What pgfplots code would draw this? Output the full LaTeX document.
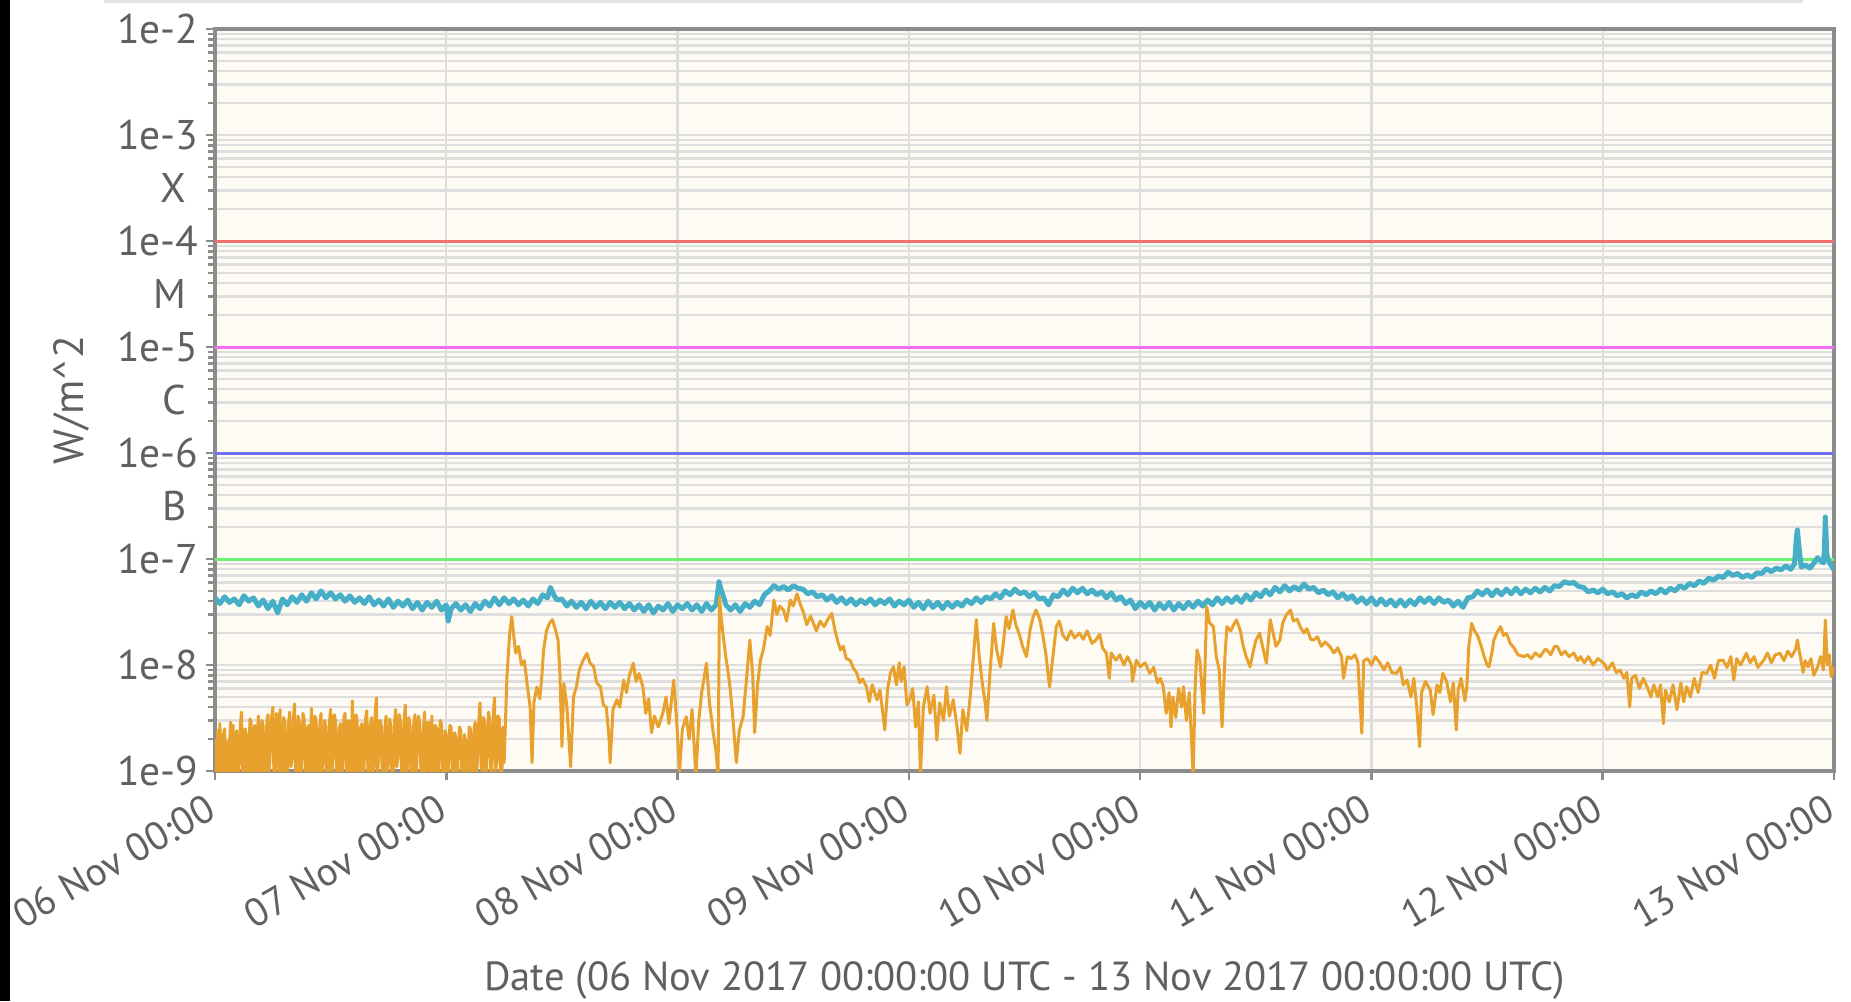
\documentclass[border=0pt]{standalone}
\usepackage{pgfplots}
\pgfplotsset{compat=1.18}
\usepackage{pgfplotstable}
\usepackage{fontspec}
\setmainfont{PT Sans}
\definecolor{cream}{RGB}{253,251,243}
\definecolor{gridgray}{RGB}{222,222,222}
\definecolor{framegray}{RGB}{140,140,140}
\definecolor{textgray}{RGB}{96,96,96}
\definecolor{goesorange}{RGB}{233,161,46}
\definecolor{goesblue}{RGB}{70,174,198}
\definecolor{xline}{RGB}{240,112,112}
\definecolor{mline}{RGB}{245,110,245}
\definecolor{cline}{RGB}{112,112,240}
\definecolor{bline}{RGB}{112,240,112}

% long channel (1-8 A), hours since 06 Nov 00:00 UTC
\pgfplotstableread[row sep=\\]{
h v\\
0 4.3e-8\\ 0.5 3.8e-8\\ 1 4.4e-8\\ 1.5 3.9e-8\\ 2 4.2e-8\\ 2.5 3.7e-8\\ 3 4.5e-8\\ 3.5 4.0e-8\\ 4 4.3e-8\\ 4.5 3.6e-8\\
5 4.1e-8\\ 5.5 3.4e-8\\ 6 4.0e-8\\ 6.5 3.1e-8\\ 7 4.2e-8\\ 7.5 3.7e-8\\ 8 4.4e-8\\ 8.5 3.9e-8\\ 9 4.6e-8\\ 9.5 4.0e-8\\
10 4.8e-8\\ 10.5 4.2e-8\\ 11 5.0e-8\\ 11.5 4.3e-8\\ 12 4.8e-8\\ 12.5 4.2e-8\\ 13 4.6e-8\\ 13.5 4.0e-8\\ 14 4.5e-8\\ 14.5 3.9e-8\\
15 4.3e-8\\ 15.5 3.8e-8\\ 16 4.4e-8\\ 16.5 3.7e-8\\ 17 4.1e-8\\ 17.5 3.6e-8\\ 18 4.2e-8\\ 18.5 3.5e-8\\ 19 4.0e-8\\ 19.5 3.6e-8\\
20 4.1e-8\\ 20.5 3.4e-8\\ 21 3.9e-8\\ 21.5 3.3e-8\\ 22 3.9e-8\\ 22.5 3.5e-8\\ 23 4.0e-8\\ 23.5 3.3e-8\\ 24 3.7e-8\\ 24.2 2.6e-8\\
24.5 3.4e-8\\ 25 3.8e-8\\ 25.5 3.3e-8\\ 26 3.7e-8\\ 26.5 3.2e-8\\ 27 3.8e-8\\ 27.5 3.4e-8\\ 28 4.0e-8\\ 28.5 3.6e-8\\ 29 4.3e-8\\
29.5 3.7e-8\\ 30 4.3e-8\\ 30.5 3.8e-8\\ 31 4.2e-8\\ 31.5 3.7e-8\\ 32 4.1e-8\\ 32.5 3.6e-8\\ 33 4.2e-8\\ 33.5 3.8e-8\\ 34 4.6e-8\\
34.5 4.3e-8\\ 34.8 5.4e-8\\ 35.2 4.5e-8\\ 35.5 4.1e-8\\ 36 4.2e-8\\ 36.5 3.6e-8\\ 37 4.0e-8\\ 37.5 3.5e-8\\ 38 3.9e-8\\ 38.5 3.4e-8\\
39 4.0e-8\\ 39.5 3.5e-8\\ 40 3.9e-8\\ 40.5 3.4e-8\\ 41 3.9e-8\\ 41.5 3.5e-8\\ 42 3.9e-8\\ 42.5 3.4e-8\\ 43 3.8e-8\\ 43.5 3.3e-8\\
44 3.7e-8\\ 44.5 3.2e-8\\ 45 3.7e-8\\ 45.5 3.1e-8\\ 46 3.6e-8\\ 46.5 3.3e-8\\ 47 3.8e-8\\ 47.5 3.2e-8\\ 48 3.7e-8\\ 48.5 3.4e-8\\
49 3.8e-8\\ 49.5 3.3e-8\\ 50 3.7e-8\\ 50.5 3.2e-8\\ 51 3.8e-8\\ 51.5 3.3e-8\\ 52 3.7e-8\\ 52.3 6.1e-8\\ 52.5 5.2e-8\\ 52.8 4.3e-8\\
53 3.7e-8\\ 53.5 3.3e-8\\ 54 3.7e-8\\ 54.5 3.2e-8\\ 55 3.8e-8\\ 55.5 3.5e-8\\ 56 4.0e-8\\ 56.5 3.7e-8\\ 57 4.6e-8\\ 57.5 5.0e-8\\
58 5.6e-8\\ 58.5 5.2e-8\\ 59 5.5e-8\\ 59.5 5.1e-8\\ 60 5.6e-8\\ 60.5 5.3e-8\\ 61 5.2e-8\\ 61.5 4.7e-8\\ 62 4.9e-8\\ 62.5 4.4e-8\\
63 4.6e-8\\ 63.5 4.1e-8\\ 64 4.5e-8\\ 64.5 3.9e-8\\ 65 4.3e-8\\ 65.5 3.8e-8\\ 66 4.2e-8\\ 66.5 3.7e-8\\ 67 4.1e-8\\ 67.5 3.8e-8\\
68 4.2e-8\\ 68.5 3.7e-8\\ 69 4.1e-8\\ 69.5 3.8e-8\\ 70 4.2e-8\\ 70.5 3.6e-8\\ 71 4.0e-8\\ 71.5 3.7e-8\\ 72 4.1e-8\\ 72.5 3.5e-8\\
73 3.9e-8\\ 73.5 3.4e-8\\ 74 4.0e-8\\ 74.5 3.5e-8\\ 75 3.9e-8\\ 75.5 3.4e-8\\ 76 3.9e-8\\ 76.5 3.5e-8\\ 77 3.9e-8\\ 77.5 3.6e-8\\
78 4.1e-8\\ 78.5 3.8e-8\\ 79 4.3e-8\\ 79.5 3.9e-8\\ 80 4.4e-8\\ 80.5 4.2e-8\\ 81 4.7e-8\\ 81.5 4.3e-8\\ 82 5.0e-8\\ 82.5 4.6e-8\\
83 5.2e-8\\ 83.5 4.7e-8\\ 84 4.9e-8\\ 84.5 4.4e-8\\ 85 4.8e-8\\ 85.5 4.2e-8\\ 86 4.3e-8\\ 86.5 3.7e-8\\ 87 4.6e-8\\ 87.5 4.4e-8\\
88 5.1e-8\\ 88.5 4.6e-8\\ 89 5.3e-8\\ 89.5 4.8e-8\\ 90 5.3e-8\\ 90.5 4.7e-8\\ 91 5.1e-8\\ 91.5 4.6e-8\\ 92 4.9e-8\\ 92.5 4.3e-8\\
93 4.8e-8\\ 93.5 4.1e-8\\ 94 4.4e-8\\ 94.5 3.8e-8\\ 95 4.1e-8\\ 95.5 3.4e-8\\ 96 3.9e-8\\ 96.5 3.5e-8\\ 97 3.9e-8\\ 97.5 3.3e-8\\
98 3.8e-8\\ 98.5 3.4e-8\\ 99 3.9e-8\\ 99.5 3.3e-8\\ 100 3.8e-8\\ 100.5 3.4e-8\\ 101 3.9e-8\\ 101.5 3.5e-8\\ 102 4.0e-8\\ 102.5 3.6e-8\\
103 4.1e-8\\ 103.5 3.7e-8\\ 104 4.3e-8\\ 104.5 3.8e-8\\ 105 4.3e-8\\ 105.5 3.9e-8\\ 106 4.4e-8\\ 106.5 3.9e-8\\ 107 4.6e-8\\ 107.5 4.1e-8\\
108 4.8e-8\\ 108.5 4.4e-8\\ 109 5.1e-8\\ 109.5 4.6e-8\\ 110 5.4e-8\\ 110.5 4.9e-8\\ 111 5.6e-8\\ 111.5 5.0e-8\\ 112 5.5e-8\\ 112.5 5.1e-8\\
113 5.8e-8\\ 113.5 5.2e-8\\ 114 5.4e-8\\ 114.5 4.8e-8\\ 115 5.1e-8\\ 115.5 4.6e-8\\ 116 4.9e-8\\ 116.5 4.3e-8\\ 117 4.7e-8\\ 117.5 4.2e-8\\
118 4.5e-8\\ 118.5 3.9e-8\\ 119 4.3e-8\\ 119.5 3.8e-8\\ 120 4.3e-8\\ 120.5 3.7e-8\\ 121 4.2e-8\\ 121.5 3.7e-8\\ 122 4.1e-8\\ 122.5 3.6e-8\\
123 4.1e-8\\ 123.5 3.6e-8\\ 124 4.1e-8\\ 124.5 3.7e-8\\ 125 4.3e-8\\ 125.5 3.9e-8\\ 126 4.3e-8\\ 126.5 3.8e-8\\ 127 4.3e-8\\ 127.5 3.9e-8\\
128 4.1e-8\\ 128.5 3.6e-8\\ 129 4.0e-8\\ 129.5 3.5e-8\\ 130 4.3e-8\\ 130.5 4.4e-8\\ 131 5.0e-8\\ 131.5 4.6e-8\\ 132 5.1e-8\\ 132.5 4.5e-8\\
133 5.1e-8\\ 133.5 4.6e-8\\ 134 5.2e-8\\ 134.5 4.7e-8\\ 135 5.3e-8\\ 135.5 4.7e-8\\ 136 5.2e-8\\ 136.5 4.8e-8\\ 137 5.3e-8\\ 137.5 4.9e-8\\
138 5.4e-8\\ 138.5 5.0e-8\\ 139 5.6e-8\\ 139.5 5.5e-8\\ 140 6.1e-8\\ 140.5 5.9e-8\\ 141 6.0e-8\\ 141.5 5.5e-8\\ 142 5.4e-8\\ 142.5 4.9e-8\\
143 5.1e-8\\ 143.5 4.8e-8\\ 144 5.2e-8\\ 144.5 4.7e-8\\ 145 4.9e-8\\ 145.5 4.5e-8\\ 146 4.7e-8\\ 146.5 4.3e-8\\ 147 4.6e-8\\ 147.5 4.4e-8\\
148 4.9e-8\\ 148.5 4.6e-8\\ 149 5.0e-8\\ 149.5 4.7e-8\\ 150 5.2e-8\\ 150.5 4.8e-8\\ 151 5.3e-8\\ 151.5 5.0e-8\\ 152 5.6e-8\\ 152.5 5.3e-8\\
153 5.9e-8\\ 153.5 5.6e-8\\ 154 6.2e-8\\ 154.5 5.9e-8\\ 155 6.6e-8\\ 155.5 6.3e-8\\ 156 6.9e-8\\ 156.5 6.7e-8\\ 157 7.5e-8\\ 157.5 7.0e-8\\
158 7.3e-8\\ 158.5 6.7e-8\\ 159 7.1e-8\\ 159.5 6.7e-8\\ 160 7.4e-8\\ 160.5 7.3e-8\\ 161 8.1e-8\\ 161.5 7.6e-8\\ 162 8.2e-8\\ 162.5 7.9e-8\\
163 8.6e-8\\ 163.5 8.0e-8\\ 163.9 9.0e-8\\ 164.1 1.6e-7\\ 164.2 1.88e-7\\ 164.4 1.2e-7\\ 164.6 8.4e-8\\ 165 8.8e-8\\ 165.5 8.2e-8\\ 166 9.4e-8\\
166.3 1.03e-7\\ 166.6 9.6e-8\\ 166.9 9.2e-8\\ 167.0 1.2e-7\\ 167.1 2.49e-7\\ 167.25 1.1e-7\\ 167.5 9.3e-8\\ 168 7.9e-8\\
}\goeslong

% short channel (0.5-4 A)
\pgfplotstableread[row sep=\\]{
h v\\
0.000 2.0e-9\\ 0.125 0.7e-9\\ 0.25 2.4e-9\\ 0.375 0.6e-9\\ 0.5 2.8e-9\\ 0.625 1.3e-9\\ 0.75 0.8e-9\\ 0.875 2.2e-9\\ 1.0 2.5e-9\\ 1.125 0.7e-9\\
1.25 1.9e-9\\ 1.375 0.6e-9\\ 1.5 1.8e-9\\ 1.625 2.9e-9\\ 1.75 1.0e-9\\ 1.875 2.7e-9\\ 2.0 0.8e-9\\ 2.125 2.0e-9\\ 2.25 2.4e-9\\ 2.375 0.7e-9\\
2.5 1.2e-9\\ 2.625 2.6e-9\\ 2.75 3.6e-9\\ 2.875 0.9e-9\\ 3.0 0.7e-9\\ 3.125 2.5e-9\\ 3.25 2.2e-9\\ 3.375 0.6e-9\\ 3.5 1.0e-9\\ 3.625 3.1e-9\\
3.75 2.9e-9\\ 3.875 0.8e-9\\ 4.0 1.5e-9\\ 4.125 2.7e-9\\ 4.25 0.6e-9\\ 4.375 2.0e-9\\ 4.5 3.3e-9\\ 4.625 0.7e-9\\ 4.75 1.2e-9\\ 4.875 3.0e-9\\
5.0 2.6e-9\\ 5.125 0.6e-9\\ 5.25 0.8e-9\\ 5.375 2.9e-9\\ 5.5 3.4e-9\\ 5.625 1.0e-9\\ 5.75 1.6e-9\\ 5.875 3.2e-9\\ 6.0 4.0e-9\\ 6.125 0.8e-9\\
6.25 0.9e-9\\ 6.375 3.5e-9\\ 6.5 2.7e-9\\ 6.625 1.0e-9\\ 6.75 3.8e-9\\ 6.875 0.7e-9\\ 7.0 1.1e-9\\ 7.125 3.2e-9\\ 7.25 2.9e-9\\ 7.375 0.6e-9\\
7.5 0.7e-9\\ 7.625 2.8e-9\\ 7.75 3.6e-9\\ 7.875 1.1e-9\\ 8.0 1.3e-9\\ 8.125 3.0e-9\\ 8.25 4.3e-9\\ 8.375 0.7e-9\\ 8.5 0.8e-9\\ 8.625 3.3e-9\\
8.75 2.8e-9\\ 8.875 0.6e-9\\ 9.0 1.4e-9\\ 9.125 3.5e-9\\ 9.25 3.1e-9\\ 9.375 0.9e-9\\ 9.5 0.6e-9\\ 9.625 2.6e-9\\ 9.75 2.7e-9\\ 9.875 0.8e-9\\
10.0 3.9e-9\\ 10.125 1.2e-9\\ 10.25 1.0e-9\\ 10.375 3.3e-9\\ 10.5 2.9e-9\\ 10.625 0.8e-9\\ 10.75 0.7e-9\\ 10.875 2.7e-9\\ 11.0 3.5e-9\\ 11.125 0.9e-9\\
11.25 1.3e-9\\ 11.375 3.0e-9\\ 11.5 2.6e-9\\ 11.625 0.6e-9\\ 11.75 0.8e-9\\ 11.875 2.9e-9\\ 12.0 3.8e-9\\ 12.125 0.9e-9\\ 12.25 1.5e-9\\ 12.375 3.4e-9\\
12.5 3.0e-9\\ 12.625 0.8e-9\\ 12.75 0.7e-9\\ 12.875 2.5e-9\\ 13.0 2.8e-9\\ 13.125 0.6e-9\\ 13.25 1.2e-9\\ 13.375 3.2e-9\\ 13.5 3.5e-9\\ 13.625 1.1e-9\\
13.75 0.9e-9\\ 13.875 3.0e-9\\ 14.0 2.5e-9\\ 14.125 0.8e-9\\ 14.25 4.6e-9\\ 14.375 1.0e-9\\ 14.5 1.0e-9\\ 14.625 3.4e-9\\ 14.75 3.0e-9\\ 14.875 0.7e-9\\
15.0 0.8e-9\\ 15.125 2.6e-9\\ 15.25 2.8e-9\\ 15.375 0.6e-9\\ 15.5 1.4e-9\\ 15.625 3.1e-9\\ 15.75 3.7e-9\\ 15.875 0.9e-9\\ 16.0 0.7e-9\\ 16.125 2.7e-9\\
16.25 3.2e-9\\ 16.375 0.8e-9\\ 16.5 1.1e-9\\ 16.625 3.6e-9\\ 16.75 4.9e-9\\ 16.875 0.9e-9\\ 17.0 1.6e-9\\ 17.125 3.0e-9\\ 17.25 2.7e-9\\ 17.375 0.7e-9\\
17.5 0.8e-9\\ 17.625 2.5e-9\\ 17.75 3.3e-9\\ 17.875 1.0e-9\\ 18.0 1.2e-9\\ 18.125 3.1e-9\\ 18.25 2.6e-9\\ 18.375 0.6e-9\\ 18.5 0.7e-9\\ 18.625 2.9e-9\\
18.75 3.8e-9\\ 18.875 1.1e-9\\ 19.0 1.5e-9\\ 19.125 3.4e-9\\ 19.25 2.9e-9\\ 19.375 0.7e-9\\ 19.5 0.8e-9\\ 19.625 3.0e-9\\ 19.75 4.2e-9\\ 19.875 0.9e-9\\
20.0 1.2e-9\\ 20.125 3.2e-9\\ 20.25 2.6e-9\\ 20.375 0.7e-9\\ 20.5 0.9e-9\\ 20.625 2.8e-9\\ 20.75 3.4e-9\\ 20.875 0.8e-9\\ 21.0 1.7e-9\\ 21.125 3.3e-9\\
21.25 2.8e-9\\ 21.375 0.9e-9\\ 21.5 0.7e-9\\ 21.625 2.4e-9\\ 21.75 3.6e-9\\ 21.875 0.8e-9\\ 22.0 1.1e-9\\ 22.125 2.9e-9\\ 22.25 2.4e-9\\ 22.375 0.7e-9\\
22.5 3.3e-9\\ 22.625 1.0e-9\\ 22.75 0.8e-9\\ 22.875 2.7e-9\\ 23.0 2.5e-9\\ 23.125 0.7e-9\\ 23.25 1.3e-9\\ 23.375 3.0e-9\\ 23.5 2.8e-9\\ 23.625 0.8e-9\\
23.75 0.7e-9\\ 23.875 2.4e-9\\ 24.0 2.2e-9\\ 24.125 0.7e-9\\ 24.25 1.4e-9\\ 24.375 2.7e-9\\ 24.5 2.6e-9\\ 24.625 0.9e-9\\ 24.75 0.8e-9\\ 24.875 2.3e-9\\
25.0 2.0e-9\\ 25.125 0.7e-9\\ 25.25 1.6e-9\\ 25.375 2.6e-9\\ 25.5 2.4e-9\\ 25.625 0.9e-9\\ 25.75 0.7e-9\\ 25.875 2.2e-9\\ 26.0 1.9e-9\\ 26.125 0.7e-9\\
26.25 1.1e-9\\ 26.375 2.6e-9\\ 26.5 2.5e-9\\ 26.625 0.8e-9\\ 26.75 0.8e-9\\ 26.875 2.4e-9\\ 27.0 2.9e-9\\ 27.125 0.9e-9\\ 27.25 1.3e-9\\ 27.375 3.0e-9\\
27.5 4.4e-9\\ 27.625 1.1e-9\\ 27.75 1.0e-9\\ 27.875 3.2e-9\\ 28.0 2.7e-9\\ 28.125 0.8e-9\\ 28.25 1.5e-9\\ 28.375 3.6e-9\\ 28.5 3.0e-9\\ 28.625 0.9e-9\\
28.75 1.2e-9\\ 28.875 3.4e-9\\ 29.0 4.9e-9\\ 29.125 1.0e-9\\ 29.25 1.3e-9\\ 29.375 3.3e-9\\ 29.5 3.1e-9\\ 29.625 0.9e-9\\ 29.75 0.8e-9\\ 29.875 2.6e-9\\
30.0 1.2e-9\\ 30.3 8e-9\\ 30.6 21e-9\\ 30.8 28.6e-9\\ 31.0 19e-9\\ 31.2 13e-9\\ 31.5 15e-9\\ 31.8 10e-9\\ 32.1 11e-9\\ 32.4 6.5e-9\\
32.7 4.0e-9\\ 32.9 1.2e-9\\ 33.1 4.5e-9\\ 33.4 6.2e-9\\ 33.7 4.8e-9\\ 33.9 7.5e-9\\ 34.1 13.9e-9\\ 34.4 21e-9\\ 34.7 24.7e-9\\ 35.0 26.8e-9\\
35.3 22e-9\\ 35.6 17.2e-9\\ 35.8 8e-9\\ 36.0 1.7e-9\\ 36.2 6.7e-9\\ 36.5 4.2e-9\\ 36.9 1.1e-9\\ 37.2 5.0e-9\\ 37.5 6.2e-9\\ 37.8 9.0e-9\\
38.2 11.1e-9\\ 38.6 12.9e-9\\ 38.9 10.5e-9\\ 39.3 9.6e-9\\ 39.6 6.8e-9\\ 40.0 6.2e-9\\ 40.3 4.2e-9\\ 40.6 4.0e-9\\ 40.9 2.0e-9\\ 41.0 1.2e-9\\
41.3 3.8e-9\\ 41.7 4.7e-9\\ 42.0 4.0e-9\\ 42.4 7.2e-9\\ 42.7 5.5e-9\\ 43.0 8.0e-9\\ 43.4 10.4e-9\\ 43.7 7.0e-9\\ 44.0 8.3e-9\\ 44.4 6.2e-9\\
44.7 3.5e-9\\ 45.0 4.8e-9\\ 45.3 2.3e-9\\ 45.6 3.3e-9\\ 46.0 2.6e-9\\ 46.5 3.6e-9\\ 46.8 5.0e-9\\ 47.1 2.8e-9\\ 47.6 7.2e-9\\ 47.9 3.0e-9\\
48.2 1.0e-9\\ 48.5 2.5e-9\\ 48.9 3.25e-9\\ 49.2 2.0e-9\\ 49.5 3.8e-9\\ 49.9 0.9e-9\\ 50.2 3.0e-9\\ 50.5 5.5e-9\\ 51.0 10.4e-9\\ 51.3 4.5e-9\\
51.7 2.3e-9\\ 52.0 1.5e-9\\ 52.2 0.9e-9\\ 52.35 44e-9\\ 52.5 30e-9\\ 52.7 20e-9\\ 53.0 12e-9\\ 53.2 9e-9\\ 53.4 6.7e-9\\ 53.7 3.5e-9\\
54.1 1.2e-9\\ 54.4 2.4e-9\\ 54.8 3.25e-9\\ 55.1 6.5e-9\\ 55.5 17.2e-9\\ 55.8 8e-9\\ 56.0 2.3e-9\\ 56.3 6.5e-9\\ 56.6 11.1e-9\\ 56.9 14e-9\\
57.3 23e-9\\ 57.6 19e-9\\ 58.0 41e-9\\ 58.3 30e-9\\ 58.6 36e-9\\ 59.0 33e-9\\ 59.3 26e-9\\ 59.7 41e-9\\ 60.0 36e-9\\ 60.4 47e-9\\
60.7 38e-9\\ 61.1 30.7e-9\\ 61.4 24e-9\\ 61.8 29e-9\\ 62.1 24.7e-9\\ 62.4 21e-9\\ 62.8 26e-9\\ 63.2 23e-9\\ 63.6 27e-9\\ 64.0 30.7e-9\\
64.3 22e-9\\ 64.6 17e-9\\ 64.9 13.9e-9\\ 65.2 15e-9\\ 65.5 11.5e-9\\ 65.9 11.1e-9\\ 66.2 9.5e-9\\ 66.6 8.35e-9\\ 66.9 6.8e-9\\ 67.2 7.4e-9\\
67.6 6.24e-9\\ 67.9 4.5e-9\\ 68.2 6.5e-9\\ 68.7 4.7e-9\\ 69.0 5.8e-9\\ 69.3 3.5e-9\\ 69.5 2.44e-9\\ 69.8 6.0e-9\\ 70.1 8.5e-9\\ 70.4 9.6e-9\\
70.7 6.5e-9\\ 71.0 10.5e-9\\ 71.2 7e-9\\ 71.5 9.6e-9\\ 71.8 4.2e-9\\ 72.1 4.7e-9\\ 72.4 6.0e-9\\ 72.7 2.6e-9\\ 73.0 4.5e-9\\ 73.2 0.9e-9\\
73.5 4.0e-9\\ 73.9 6.24e-9\\ 74.2 3.5e-9\\ 74.6 5.2e-9\\ 74.9 1.96e-9\\ 75.2 4.4e-9\\ 75.6 3.0e-9\\ 75.9 6.24e-9\\ 76.2 3.3e-9\\ 76.6 4.7e-9\\
77.0 2.6e-9\\ 77.3 1.47e-9\\ 77.6 3.8e-9\\ 78.0 2.4e-9\\ 78.4 5.4e-9\\ 78.7 12e-9\\ 79.0 26.8e-9\\ 79.3 12e-9\\ 79.6 7e-9\\ 79.9 4.5e-9\\
80.1 3.0e-9\\ 80.4 8e-9\\ 80.8 24.7e-9\\ 81.1 14e-9\\ 81.5 9.6e-9\\ 81.8 16e-9\\ 82.1 28.6e-9\\ 82.4 22e-9\\ 82.8 33e-9\\ 83.1 24e-9\\
83.5 19e-9\\ 83.8 15e-9\\ 84.2 12e-9\\ 84.6 22e-9\\ 84.9 28.6e-9\\ 85.2 33e-9\\ 85.6 26.6e-9\\ 85.9 19e-9\\ 86.2 13e-9\\ 86.6 6.2e-9\\
86.9 11e-9\\ 87.3 23e-9\\ 87.6 26e-9\\ 88.0 19e-9\\ 88.4 17.2e-9\\ 88.8 21e-9\\ 89.2 18e-9\\ 89.7 20e-9\\ 90.1 17.5e-9\\ 90.5 21e-9\\
91.0 16e-9\\ 91.4 17.2e-9\\ 91.8 19.5e-9\\ 92.1 14.5e-9\\ 92.5 12.9e-9\\ 92.8 7.5e-9\\ 93.0 13e-9\\ 93.5 11.1e-9\\ 93.9 12.5e-9\\ 94.3 10e-9\\
94.7 12e-9\\ 95.1 10e-9\\ 95.2 7e-9\\ 95.6 11.1e-9\\ 96.0 9.6e-9\\ 96.5 10.5e-9\\ 97.0 8.35e-9\\ 97.4 9.5e-9\\ 97.8 6.8e-9\\ 98.1 7.5e-9\\
98.4 6.24e-9\\ 98.7 3.5e-9\\ 99.0 5.5e-9\\ 99.2 2.6e-9\\ 99.4 5.0e-9\\ 99.7 3.2e-9\\ 100.0 6.0e-9\\ 100.3 4.0e-9\\ 100.5 6.24e-9\\ 100.8 3.0e-9\\
101.1 5.5e-9\\ 101.5 0.9e-9\\ 101.7 6e-9\\ 101.9 13.9e-9\\ 102.2 11e-9\\ 102.6 3.5e-9\\ 102.9 35.5e-9\\ 103.2 25e-9\\ 103.6 23e-9\\ 103.9 12e-9\\
104.2 9e-9\\ 104.5 2.6e-9\\ 104.8 12e-9\\ 105.0 23e-9\\ 105.4 21e-9\\ 105.7 24e-9\\ 106.0 26.6e-9\\ 106.4 21e-9\\ 106.7 15e-9\\ 107.0 12e-9\\
107.4 9.6e-9\\ 107.7 13e-9\\ 108.0 17e-9\\ 108.4 20e-9\\ 108.7 15e-9\\ 109.1 10.4e-9\\ 109.5 26.8e-9\\ 109.8 20e-9\\ 110.1 15e-9\\ 110.5 17.2e-9\\
110.8 25e-9\\ 111.2 30e-9\\ 111.6 33e-9\\ 111.9 26e-9\\ 112.3 27e-9\\ 112.6 23e-9\\ 113.0 20e-9\\ 113.3 22e-9\\ 113.7 17.5e-9\\ 114.0 17.2e-9\\
114.4 18.5e-9\\ 114.8 15e-9\\ 115.2 16.5e-9\\ 115.7 14.9e-9\\ 116.1 13e-9\\ 116.5 14.5e-9\\ 116.9 12e-9\\ 117.1 7.5e-9\\ 117.5 12e-9\\ 117.9 11.5e-9\\
118.3 12.5e-9\\ 118.6 10.5e-9\\ 119.0 2.27e-9\\ 119.2 11e-9\\ 119.6 11.5e-9\\ 120.0 10e-9\\ 120.4 12e-9\\ 120.9 10.4e-9\\ 121.3 9e-9\\ 121.7 10.5e-9\\
122.1 8.5e-9\\ 122.6 8.35e-9\\ 123.0 9.5e-9\\ 123.3 6.5e-9\\ 123.7 7.2e-9\\ 124.1 5.0e-9\\ 124.4 7.5e-9\\ 124.7 4.0e-9\\ 125.0 1.7e-9\\ 125.2 5.5e-9\\
125.6 7.0e-9\\ 126.1 5.8e-9\\ 126.4 3.4e-9\\ 126.8 6.5e-9\\ 127.1 5.5e-9\\ 127.4 8.35e-9\\ 127.8 7.0e-9\\ 128.2 4.5e-9\\ 128.5 6.8e-9\\ 128.8 2.44e-9\\
129.0 5.8e-9\\ 129.3 7.5e-9\\ 129.7 4.6e-9\\ 129.9 6.24e-9\\ 130.1 15e-9\\ 130.4 24.7e-9\\ 130.7 21e-9\\ 131.0 19e-9\\ 131.3 16e-9\\ 131.7 12e-9\\
132.0 10e-9\\ 132.2 9.6e-9\\ 132.5 13e-9\\ 132.7 17.2e-9\\ 133.0 20e-9\\ 133.4 23e-9\\ 133.7 19e-9\\ 134.0 20e-9\\ 134.4 16e-9\\ 134.8 14.5e-9\\
135.2 12.5e-9\\ 135.8 12e-9\\ 136.2 12.5e-9\\ 136.6 11.5e-9\\ 137.0 13e-9\\ 137.5 12e-9\\ 138.0 14e-9\\ 138.2 13.9e-9\\ 138.6 12.5e-9\\ 139.0 15e-9\\
139.3 14.9e-9\\ 139.7 12.5e-9\\ 140.1 13.5e-9\\ 140.5 12e-9\\ 141.0 13e-9\\ 141.4 11e-9\\ 141.7 12e-9\\ 142.1 10.5e-9\\ 142.5 12e-9\\ 143.0 10e-9\\
143.5 11.5e-9\\ 144.1 10.4e-9\\ 144.5 9e-9\\ 145.0 10.5e-9\\ 145.4 8.5e-9\\ 145.8 8.97e-9\\ 146.2 7.5e-9\\ 146.5 8.5e-9\\ 146.8 4.04e-9\\ 147.0 7.5e-9\\
147.4 8.0e-9\\ 147.8 6.0e-9\\ 148.2 7.5e-9\\ 148.6 6.24e-9\\ 149.0 5.0e-9\\ 149.3 6.5e-9\\ 149.7 5.0e-9\\ 150.0 6.5e-9\\ 150.3 2.8e-9\\ 150.5 5.8e-9\\
150.9 4.5e-9\\ 151.3 6.5e-9\\ 151.7 3.8e-9\\ 152.1 6.8e-9\\ 152.4 4.5e-9\\ 152.7 6.24e-9\\ 153.1 5.0e-9\\ 153.5 7.5e-9\\ 153.9 5.5e-9\\ 154.3 8.5e-9\\
154.8 8.35e-9\\ 155.2 10e-9\\ 155.6 7.5e-9\\ 156.0 11e-9\\ 156.5 11.1e-9\\ 156.9 9.5e-9\\ 157.3 12e-9\\ 157.6 7.2e-9\\ 157.9 11.5e-9\\ 158.3 10e-9\\
158.9 12.9e-9\\ 159.3 10.5e-9\\ 159.7 12e-9\\ 160.1 9.5e-9\\ 160.7 11.1e-9\\ 161.1 13e-9\\ 161.5 10.5e-9\\ 161.9 12.5e-9\\ 162.4 12.9e-9\\ 162.8 11e-9\\
163.2 13.5e-9\\ 163.6 12e-9\\ 164.0 14e-9\\ 164.2 17.2e-9\\ 164.5 12e-9\\ 164.8 8.5e-9\\ 165.0 11e-9\\ 165.3 9.6e-9\\ 165.6 11.5e-9\\ 165.9 8e-9\\
166.3 9.6e-9\\ 166.6 12e-9\\ 166.9 9e-9\\ 167.1 26.6e-9\\ 167.3 10e-9\\ 167.5 12.5e-9\\ 167.7 7.76e-9\\ 168.0 9.6e-9\\
}\goesshort

\begin{document}
\begin{tikzpicture}[x=1mm,y=1mm]
\useasboundingbox (0,0) rectangle (185.1,100.1);
\fill[black] (0,0) rectangle (1.0,100.1);
\draw[gray!22, line width=0.3mm] (10.4,99.95) -- (180.3,99.95);
\begin{axis}[
  at={(21.5mm,23.0mm)}, anchor=south west,
  width=161.9mm, height=74.2mm, scale only axis,
  ymode=log, ymin=1e-9, ymax=1e-2,
  xmin=0, xmax=168,
  axis background/.style={fill=cream},
  axis line style={draw=framegray, line width=0.35mm},
  xtick={0,24,48,72,96,120,144,168},
  xticklabels={06 Nov 00:00,07 Nov 00:00,08 Nov 00:00,09 Nov 00:00,10 Nov 00:00,11 Nov 00:00,12 Nov 00:00,13 Nov 00:00},
  ytick={1e-9,1e-8,1e-7,1e-6,1e-5,1e-4,1e-3,1e-2},
  yticklabels={1e-9,1e-8,1e-7,1e-6,1e-5,1e-4,1e-3,1e-2},
  minor ytick={2e-9,3e-9,4e-9,5e-9,6e-9,7e-9,8e-9,9e-9,
    2e-8,3e-8,4e-8,5e-8,6e-8,7e-8,8e-8,9e-8,
    2e-7,3e-7,4e-7,5e-7,6e-7,7e-7,8e-7,9e-7,
    2e-6,3e-6,4e-6,5e-6,6e-6,7e-6,8e-6,9e-6,
    2e-5,3e-5,4e-5,5e-5,6e-5,7e-5,8e-5,9e-5,
    2e-4,3e-4,4e-4,5e-4,6e-4,7e-4,8e-4,9e-4,
    2e-3,3e-3,4e-3,5e-3,6e-3,7e-3,8e-3,9e-3},
  extra y ticks={3.1623e-4,3.1623e-5,3.1623e-6,3.1623e-7},
  extra y tick labels={X,M,C,B},
  extra y tick style={grid=none, major tick length=0pt,
    yticklabel style={xshift=-2.1mm}},
  xmajorgrids, ymajorgrids, yminorgrids,
  major grid style={draw=gridgray, line width=0.22mm},
  minor grid style={draw=gridgray, line width=0.22mm},
  tick align=outside, xtick pos=bottom, ytick pos=left,
  major tick length=0.9mm, minor tick length=0.7mm,
  every tick/.style={draw=framegray, line width=0.25mm},
  yticklabel style={font=\fontsize{11.8}{13}\selectfont, text=textgray, anchor=east, inner sep=0pt, xshift=-0.7mm},
  xticklabel style={font=\fontsize{11.2}{13}\selectfont, text=textgray, xshift=-1.1mm, yshift=-1.2mm, rotate=30, anchor=north east, inner sep=0pt},
  xlabel={Date (06 Nov 2017 00:00:00 UTC - 13 Nov 2017 00:00:00 UTC)},
  ylabel={W/m\textasciicircum 2},
  xlabel style={font=\fontsize{11.55}{13}\selectfont, text=textgray, at={(axis description cs:0.5,-0.2817)}, anchor=center},
  ylabel style={font=\fontsize{12}{13}\selectfont, text=textgray, at={(axis description cs:-0.0889,0.5)}, anchor=center, rotate=0},
  clip=true,
]
\addplot[xline, line width=0.3mm] coordinates {(0,1e-4) (168,1e-4)};
\addplot[mline, line width=0.3mm] coordinates {(0,1e-5) (168,1e-5)};
\addplot[cline, line width=0.3mm] coordinates {(0,1e-6) (168,1e-6)};
\addplot[bline, line width=0.3mm] coordinates {(0,1e-7) (168,1e-7)};
\addplot[goesblue, line width=0.5mm, line join=round] table[x=h, y=v] {\goeslong};
\addplot[goesorange, line width=0.3mm, line join=round] table[x=h, y=v] {\goesshort};
\end{axis}
\end{tikzpicture}
\end{document}
